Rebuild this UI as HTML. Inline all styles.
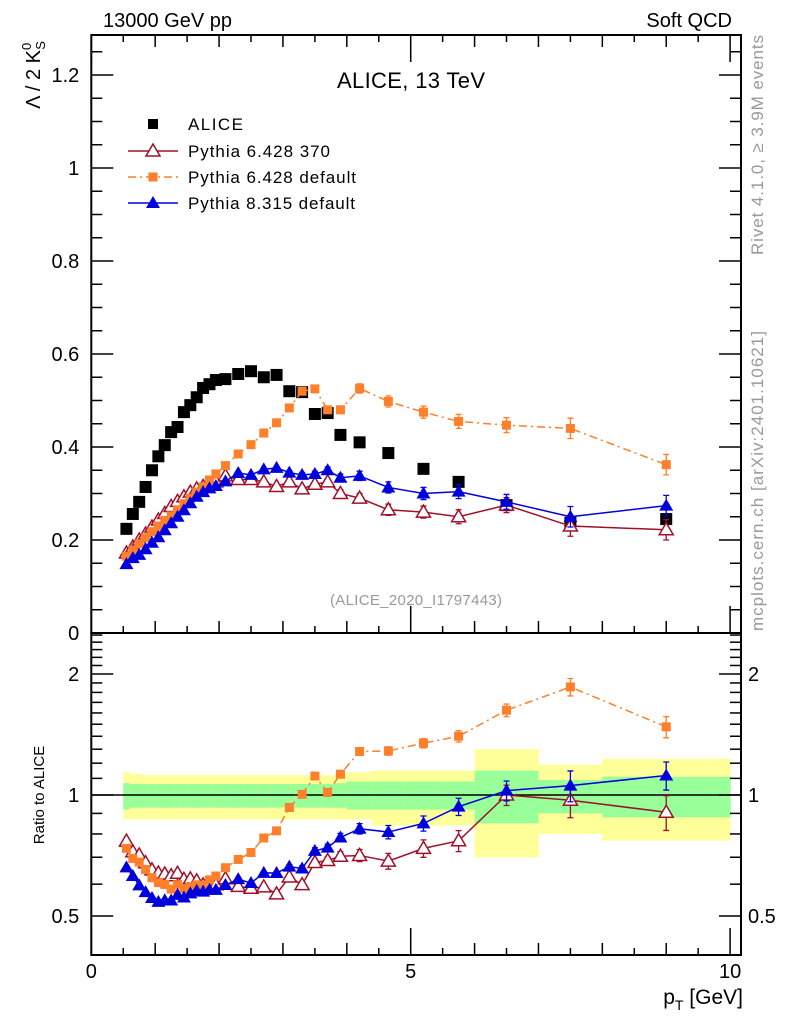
<!DOCTYPE html>
<html><head><meta charset="utf-8">
<style>
html,body{margin:0;padding:0;background:#fff;}
svg{display:block;font-family:"Liberation Sans","DejaVu Sans",sans-serif;}
</style></head>
<body>
<svg id="chart" width="786" height="1024" viewBox="0 0 786 1024" xmlns="http://www.w3.org/2000/svg">
<g id="bands"></g>
<g id="marks"></g>
<g id="axes"></g>
<text x="103" y="27" font-size="20">13000 GeV pp</text>
<text x="732" y="27" font-size="20" text-anchor="end">Soft QCD</text>
<text x="411" y="88" font-size="22" text-anchor="middle" textLength="148">ALICE, 13 TeV</text>
<text x="416" y="605" font-size="15" fill="#999" text-anchor="middle" textLength="172">(ALICE_2020_I1797443)</text>
<text transform="translate(40,75) rotate(-90)" font-size="20" text-anchor="middle">Λ / 2 K<tspan font-size="13" dy="-9">0</tspan><tspan font-size="13" dy="14" dx="-7">S</tspan></text>
<text transform="translate(44,795) rotate(-90)" font-size="15" text-anchor="middle">Ratio to ALICE</text>
<text x="743" y="1004" font-size="21" text-anchor="end">p<tspan font-size="14" dy="6">T</tspan><tspan dy="-6"> [GeV]</tspan></text>
<text transform="translate(763,145) rotate(-90)" font-size="17" fill="#999" text-anchor="middle" textLength="220">Rivet 4.1.0, ≥ 3.9M events</text>
<text transform="translate(763,481) rotate(-90)" font-size="17" fill="#999" text-anchor="middle" textLength="300">mcplots.cern.ch [arXiv:2401.10621]</text>
<g id="legend"></g>
</svg>
<script>
const pt = [0.55,0.65,0.75,0.85,0.95,1.05,1.15,1.25,1.35,1.45,1.55,1.65,1.75,1.85,1.95,2.1,2.3,2.5,2.7,2.9,3.1,3.3,3.5,3.7,3.9,4.2,4.65,5.2,5.75,6.5,7.5,9.0];
const binLo = [0.5,0.6,0.7,0.8,0.9,1.0,1.1,1.2,1.3,1.4,1.5,1.6,1.7,1.8,1.9,2.0,2.2,2.4,2.6,2.8,3.0,3.2,3.4,3.6,3.8,4.0,4.4,4.9,5.5,6.0,7.0,8.0];
const binHi = [0.6,0.7,0.8,0.9,1.0,1.1,1.2,1.3,1.4,1.5,1.6,1.7,1.8,1.9,2.0,2.2,2.4,2.6,2.8,3.0,3.2,3.4,3.6,3.8,4.0,4.4,4.9,5.5,6.0,7.0,8.0,10.0];
const alice = [0.224,0.256,0.282,0.314,0.35,0.38,0.404,0.432,0.443,0.475,0.49,0.507,0.527,0.535,0.544,0.546,0.557,0.563,0.55,0.555,0.52,0.518,0.471,0.473,0.426,0.41,0.387,0.353,0.325,0.275,0.237,0.245];
const py6tune = [0.172,0.185,0.2,0.213,0.228,0.243,0.257,0.272,0.283,0.293,0.303,0.31,0.315,0.32,0.325,0.338,0.33,0.33,0.325,0.315,0.325,0.31,0.32,0.325,0.3,0.29,0.265,0.26,0.25,0.275,0.23,0.222];
const py6def = [0.165,0.178,0.192,0.205,0.218,0.23,0.242,0.252,0.265,0.278,0.29,0.303,0.314,0.329,0.342,0.36,0.385,0.405,0.43,0.452,0.484,0.52,0.525,0.48,0.48,0.526,0.498,0.475,0.455,0.447,0.44,0.362];
const py8def = [0.148,0.161,0.168,0.18,0.194,0.206,0.221,0.236,0.25,0.264,0.279,0.293,0.303,0.311,0.316,0.326,0.344,0.34,0.352,0.355,0.345,0.34,0.342,0.35,0.334,0.338,0.313,0.3,0.304,0.282,0.25,0.274];
const mcErr = [0,0,0,0,0,0,0,0,0,0,0,0,0,0,0,0,0,0,0,0,0.004,0.005,0.006,0.007,0.008,0.01,0.012,0.013,0.015,0.016,0.022,0.022];
const yelLo = [0.87,0.87,0.87,0.87,0.87,0.87,0.87,0.87,0.87,0.87,0.87,0.87,0.87,0.87,0.87,0.87,0.87,0.87,0.87,0.87,0.87,0.87,0.87,0.87,0.87,0.87,0.84,0.84,0.84,0.70,0.80,0.77];
const yelHi = [1.14,1.13,1.13,1.12,1.12,1.12,1.12,1.12,1.12,1.12,1.12,1.12,1.12,1.12,1.12,1.12,1.12,1.12,1.12,1.12,1.12,1.12,1.12,1.12,1.12,1.14,1.15,1.15,1.15,1.30,1.19,1.23];
const grnLo = [0.92,0.93,0.93,0.93,0.93,0.93,0.93,0.93,0.93,0.93,0.93,0.93,0.93,0.93,0.93,0.93,0.93,0.93,0.93,0.93,0.93,0.93,0.93,0.93,0.93,0.92,0.92,0.92,0.92,0.85,0.90,0.88];
const grnHi = [1.07,1.065,1.065,1.065,1.065,1.065,1.065,1.065,1.065,1.065,1.065,1.065,1.065,1.065,1.065,1.065,1.065,1.065,1.065,1.065,1.065,1.065,1.065,1.065,1.07,1.08,1.08,1.08,1.08,1.15,1.09,1.11];
const mainTicks = [0,0.2,0.4,0.6,0.8,1,1.2];
const ratioTicks = [0.5,1,2];
const xTicks = [0,5,10];

const NS="http://www.w3.org/2000/svg";
const X0=91.3, X1=741, PX=(410.7-91.3)/5;
const MT=35, MB=633, RB=955;
const x = v => X0 + v*PX;
const ym = v => 633 - v*465;
const yr = v => 795 - Math.log2(v)*121;
function mk(tag, attrs, parent){const e=document.createElementNS(NS,tag);for(const k in attrs)e.setAttribute(k,attrs[k]);parent.appendChild(e);return e;}
const bands=document.getElementById('bands'), marks=document.getElementById('marks'), axes=document.getElementById('axes'), legend=document.getElementById('legend');

for(let i=0;i<pt.length;i++){
  const y1=mk('rect',{x:x(binLo[i]),y:yr(yelHi[i]),width:x(binHi[i])-x(binLo[i])+0.5,height:yr(yelLo[i])-yr(yelHi[i]),fill:'#ffff99'},bands);
  
  
  const g1=mk('rect',{x:x(binLo[i]),y:yr(grnHi[i]),width:x(binHi[i])-x(binLo[i])+0.5,height:yr(grnLo[i])-yr(grnHi[i]),fill:'#99ff99'},bands);
  
  
}
const one=mk('line',{x1:X0,x2:X1,y1:yr(1),y2:yr(1),stroke:'#000','stroke-width':1.5},bands);



function marker(type,cx,cy,color,parent){
  let e;
  if(type==='sq') e=mk('rect',{x:cx-6,y:cy-6,width:12,height:12,fill:color},parent);
  else if(type==='osq') e=mk('rect',{x:cx-4.5,y:cy-4.5,width:9,height:9,fill:color},parent);
  else if(type==='tri') e=mk('path',{d:`M${cx},${cy-7}L${cx+7},${cy+5}L${cx-7},${cy+5}Z`,fill:color},parent);
  else e=mk('path',{d:`M${cx},${cy-7}L${cx+7},${cy+5}L${cx-7},${cy+5}Z`,fill:'#fff',stroke:color,'stroke-width':1.5},parent);
  return e;
}
const series=[
  {name:'pythia6-370',vals:py6tune,color:'#a0102a',type:'otri',dash:''},
  {name:'pythia6-default',vals:py6def,color:'#ff7f2a',type:'osq',dash:'8,4,2,4'},
  {name:'pythia8-default',vals:py8def,color:'#0000dd',type:'tri',dash:''}
];
series.forEach(s=>{
  const g=mk('g',{},marks);
  
  
  let dm='',dr='';
  s.vals.forEach((v,i)=>{dm+=(i?'L':'M')+x(pt[i])+','+ym(v);dr+=(i?'L':'M')+x(pt[i])+','+yr(v/alice[i]);});
  mk('path',{d:dm,fill:'none',stroke:s.color,'stroke-width':1.5,'stroke-dasharray':s.dash},g);
  mk('path',{d:dr,fill:'none',stroke:s.color,'stroke-width':1.5,'stroke-dasharray':s.dash},g);
  s.vals.forEach((v,i)=>{
    const e=mcErr[i];
    if(e>0){
      const cx=x(pt[i]);
      mk('path',{d:`M${cx},${ym(v+e)}L${cx},${ym(v-e)}M${cx-3},${ym(v+e)}h6M${cx-3},${ym(v-e)}h6`,stroke:s.color,'stroke-width':1.3,fill:'none'},g);
      const r=v/alice[i], re=e/alice[i];
      mk('path',{d:`M${cx},${yr(r+re)}L${cx},${yr(r-re)}M${cx-3},${yr(r+re)}h6M${cx-3},${yr(r-re)}h6`,stroke:s.color,'stroke-width':1.3,fill:'none'},g);
    }
    const m1=marker(s.type,x(pt[i]),ym(v),s.color,g);
    
    
    const m2=marker(s.type,x(pt[i]),yr(v/alice[i]),s.color,g);
    
    
  });
});
const ga=document.createElementNS(NS,'g');


marks.insertBefore(ga,marks.firstChild);
alice.forEach((v,i)=>{
  const m=marker('sq',x(pt[i]),ym(v),'#000',ga);
  
  
});

mk('rect',{x:X0,y:MT,width:X1-X0,height:MB-MT,fill:'none',stroke:'#000','stroke-width':2},axes);
mk('rect',{x:X0,y:MB,width:X1-X0,height:RB-MB,fill:'none',stroke:'#000','stroke-width':2},axes);
for(let v=0;v<=1.3;v+=0.05){
  const y=ym(v); if(y<MT) break;
  const major=Math.abs(v/0.2-Math.round(v/0.2))<1e-6;
  const L=major?22:11;
  mk('line',{x1:X0,x2:X0+L,y1:y,y2:y,stroke:'#000','stroke-width':1.5},axes);
  mk('line',{x1:X1,x2:X1-L,y1:y,y2:y,stroke:'#000','stroke-width':1.5},axes);
}
mainTicks.forEach(v=>{
  const t=mk('text',{x:X0-12,y:ym(v)+7,'font-size':20,'text-anchor':'end'},axes);
  t.textContent=(v===0?'0':(v===1?'1':String(v)));
  
  
});
const rminor=[0.4,0.5,0.6,0.7,0.8,0.9,1,1.1,1.2,1.3,1.4,1.5,1.6,1.7,1.8,1.9,2,2.1,2.2,2.3,2.4,2.5];
rminor.forEach(v=>{
  const y=yr(v); if(y<MB||y>RB) return;
  const major=ratioTicks.includes(v);
  const L=major?22:11;
  mk('line',{x1:X0,x2:X0+L,y1:y,y2:y,stroke:'#000','stroke-width':1.5},axes);
  mk('line',{x1:X1,x2:X1-L,y1:y,y2:y,stroke:'#000','stroke-width':1.5},axes);
});
ratioTicks.forEach(v=>{
  const t=mk('text',{x:X0-12,y:yr(v)+7,'font-size':20,'text-anchor':'end'},axes);
  t.textContent=String(v);
  
  
  const t2=mk('text',{x:X1+7,y:yr(v)+7,'font-size':20},axes);
  t2.textContent=String(v);
  
  
});
for(let v=0;v<=10.01;v+=0.5){
  const major=Math.abs(v%5)<1e-6, mid=Math.abs(v%1)<1e-6;
  const L=major?27:(mid?12:7);
  [MT,MB,RB].forEach((yb,k)=>{
    if(k===0) mk('line',{x1:x(v),x2:x(v),y1:yb,y2:yb+L,stroke:'#000','stroke-width':1.5},axes);
    else mk('line',{x1:x(v),x2:x(v),y1:yb,y2:yb-L,stroke:'#000','stroke-width':1.5},axes);
  });
}
xTicks.forEach(v=>{
  const t=mk('text',{x:x(v),y:978,'font-size':20,'text-anchor':'middle'},axes);
  t.textContent=String(v);
  
  
});

const leg=[
  {label:'ALICE',type:'sq',color:'#000',line:false,y:124,w:55},
  {label:'Pythia 6.428 370',type:'otri',color:'#a0102a',line:true,dash:'',y:151,w:142},
  {label:'Pythia 6.428 default',type:'osq',color:'#ff7f2a',line:true,dash:'8,4,2,4',y:177,w:168},
  {label:'Pythia 8.315 default',type:'tri',color:'#0000dd',line:true,dash:'',y:203,w:167}
];
leg.forEach(l=>{
  const g=mk('g',{},legend);
  
  
  if(l.line) mk('line',{x1:128,x2:178,y1:l.y,y2:l.y,stroke:l.color,'stroke-width':1.5,'stroke-dasharray':l.dash},g);
  if(l.type==='sq') mk('rect',{x:148,y:l.y-5,width:10,height:10,fill:'#000'},g);
  else marker(l.type,153,l.y,l.color,g);
  const t=mk('text',{x:188,y:l.y+6,'font-size':17,textLength:l.w},g);
  t.textContent=l.label;
});
</script>
</body></html>
